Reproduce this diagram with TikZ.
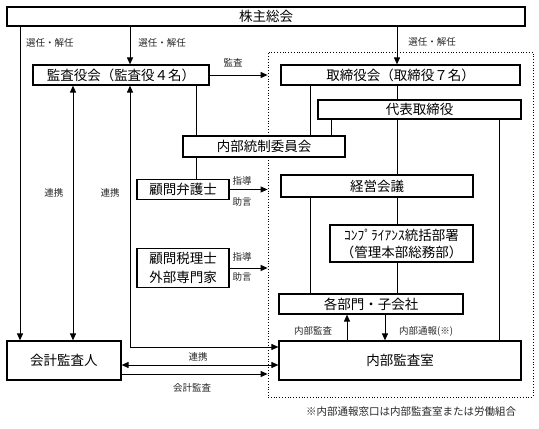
\documentclass[tikz,border=0pt]{standalone}
\usepackage{fontspec}
\setmainfont{Noto Sans CJK JP}
\usetikzlibrary{arrows.meta}
\begin{document}
\begin{tikzpicture}[x=1pt,y=-1pt,
  box/.style={draw, line width=1.2pt, inner sep=0pt, align=center, fill=white,
    font=\fontsize{13.5}{16}\selectfont},
  lbl/.style={inner sep=0pt, font=\fontsize{9.5}{11}\selectfont, text=black!85},
  ln/.style={line width=1pt},
  arr/.style={ln, -{Triangle[length=7pt,width=6pt]}},
  darr/.style={ln, {Triangle[length=7pt,width=6pt]}-{Triangle[length=7pt,width=6pt]}}]
\useasboundingbox (0,0) rectangle (539,429);

\node[draw, dotted, line width=0.8pt, minimum width=265pt, minimum height=345pt, inner sep=0pt] (region) at (400.5,224.5) {};

\node[box, minimum width=518pt, minimum height=19pt] (kabu) at (266,16.5) {株主総会};
\node[box, minimum width=176pt, minimum height=20pt] (kansa) at (121,75) {監査役会（監査役４名）};
\node[box, minimum width=239pt, minimum height=20pt] (tori) at (400.5,75) {取締役会（取締役７名）};
\node[box, minimum width=203pt, minimum height=19pt] (daihyo) at (419.5,109.5) {代表取締役};
\node[box, minimum width=162pt, minimum height=21pt] (naibu) at (264,146.5) {内部統制委員会};
\node[box, minimum width=92pt, minimum height=20pt] (bengo) at (183,189.5) {顧問弁護士};
\node[box, minimum width=92pt, minimum height=39pt, font=\fontsize{13.5}{19.5}\selectfont] (zeiri) at (183,268) {顧問税理士\\外部専門家};
\node[box, minimum width=192pt, minimum height=22pt] (keiei) at (377,186) {経営会議};
\node[box, minimum width=143pt, minimum height=37pt, font=\fontsize{13.5}{17}\selectfont] (comp) at (401.5,243.5) {ｺﾝﾌﾟﾗｲｱﾝｽ統括部署\\（管理本部総務部）};
\node[box, minimum width=184pt, minimum height=20pt] (kakubu) at (371,304) {各部門・子会社};
\node[box, minimum width=242pt, minimum height=39pt] (naikan) at (400,360.5) {内部監査室};
\node[box, minimum width=114pt, minimum height=39pt] (kaikei) at (64,360.5) {会計監査人};

% from shareholders
\draw[arr] (20,0 |- kabu.south) -- (20,0 |- kaikei.north);
\draw[arr] (130,0 |- kabu.south) -- (130,0 |- kansa.north);
\draw[arr] (397,0 |- kabu.south) -- (397,0 |- tori.north);
\node[lbl] (l1) at (50,43) {選任・解任};
\node[lbl] (l2) at (162,43) {選任・解任};
\node[lbl] (l3) at (432,42) {選任・解任};

% audit board
\draw[arr] (kansa.east) -- (kansa.east -| region.west);
\node[lbl] (l4) at (233,63) {監査};
\draw[ln] (196,0 |- kansa.south) -- (196,0 |- naibu.north);
\draw[ln] (196,0 |- naibu.south) -- (196,0 |- bengo.north);

% board structure
\draw[ln] (310,0 |- tori.south) -- (310,0 |- naibu.north);
\draw[ln] (397,0 |- tori.south) -- (397,0 |- daihyo.north);
\draw[ln] (331,0 |- daihyo.south) -- (331,0 |- naibu.north);
\draw[ln] (397,0 |- daihyo.south) -- (397,0 |- keiei.north);
\draw[ln] (499,0 |- daihyo.south) -- (499,0 |- naikan.north);
\draw[ln] (310,0 |- keiei.south) -- (310,0 |- kakubu.north);
\draw[ln] (397,0 |- keiei.south) -- (397,0 |- comp.north);
\draw[ln] (397,0 |- comp.south) -- (397,0 |- kakubu.north);

% advisers
\draw[arr] (bengo.east) -- (bengo.east -| region.west);
\node[lbl] (l5) at (242,181) {指導};
\node[lbl] (l6) at (242,202) {助言};
\draw[arr] (zeiri.east) -- (zeiri.east -| region.west);
\node[lbl] (l7) at (242,257) {指導};
\node[lbl] (l8) at (242,277) {助言};

% internal audit
\draw[arr] (347,0 |- naikan.north) -- (347,0 |- kakubu.south);
\draw[arr] (385,0 |- kakubu.south) -- (385,0 |- naikan.north);
\node[lbl] (l9) at (313,331) {内部監査};
\node[lbl] (l10) at (426,331) {内部通報(※)};

% cooperation
\draw[darr] (73,0 |- kansa.south) -- (73,0 |- kaikei.north);
\node[lbl] (l11) at (54,193) {連携};
\draw[darr] (130,0 |- kansa.south) |- (naikan.west |- 0,347);
\node[lbl] (l12) at (110,193) {連携};
\draw[darr] (kaikei.east |- 0,365) -- (naikan.west |- 0,365);
\node[lbl] (l13) at (198,357) {連携};
\draw[arr] (kaikei.east |- 0,374) -- (region.west |- 0,374);
\node[lbl] (l14) at (192,388) {会計監査};

\node[inner sep=0pt, font=\fontsize{10.5}{12}\selectfont, text=black!85] (note) at (411,412) {※内部通報窓口は内部監査室または労働組合};
\end{tikzpicture}
\end{document}
